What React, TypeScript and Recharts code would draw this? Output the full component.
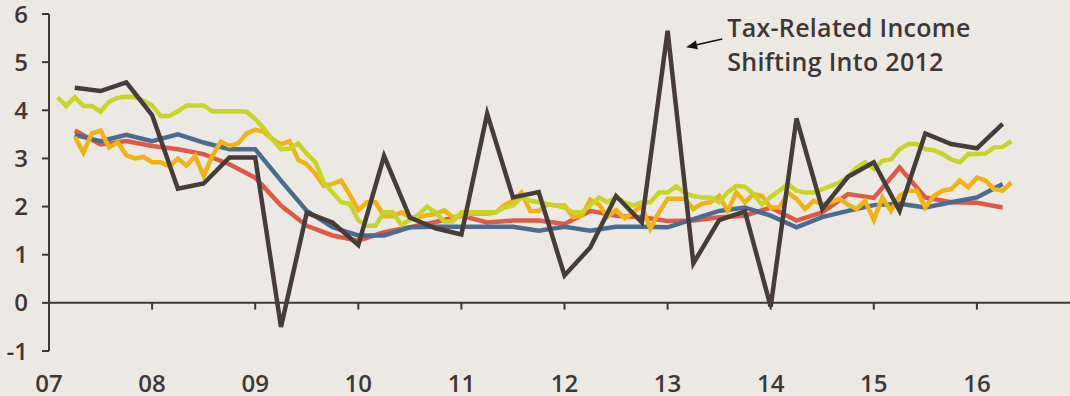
import React from 'react';
import { LineChart, Line, XAxis, YAxis, ReferenceLine } from 'recharts';

// Month index k: 1 = Jan 2007 ... 112 = Apr 2016
const greenMonthly = [
  4.27, 4.09, 4.27, 4.09, 4.09, 3.97, 4.18, 4.26, 4.28, 4.27, 4.2, 4.1,
  3.88, 3.88, 3.98, 4.1, 4.1, 4.1, 3.98, 3.98, 3.98, 3.98, 3.97, 3.82,
  3.62, 3.4, 3.19, 3.2, 3.31, 3.1, 2.92, 2.5, 2.29, 2.09, 2.06, 1.71,
  1.6, 1.6, 1.88, 1.88, 1.62, 1.72, 1.83, 2.0, 1.88, 1.69, 1.69, 1.88,
  1.88, 1.88, 1.88, 1.88, 1.98, 2.02, 2.19, 2.12, 2.09, 2.05, 2.02, 1.98,
  1.88, 1.88, 2.02, 2.19, 2.09, 2.19, 2.09, 2.02, 2.09, 2.09, 2.29, 2.29,
  2.42, 2.28, 2.22, 2.19, 2.19, 2.09, 2.3, 2.43, 2.41, 2.26, 2.04, 2.2,
  2.33, 2.47, 2.33, 2.29, 2.29, 2.36, 2.43, 2.5, 2.62, 2.81, 2.92, 2.78,
  2.95, 2.98, 3.19, 3.3, 3.3, 3.19, 3.17, 3.09, 2.98, 2.92, 3.09, 3.09,
  3.1, 3.23, 3.24, 3.36,
];

// starts at k = 3 (Mar 2007)
const yellowMonthly = [
  3.45, 3.12, 3.52, 3.58, 3.23, 3.33, 3.07, 3.0, 3.03, 2.92,
  2.92, 2.83, 3.0, 2.85, 3.05, 2.64, 3.05, 3.35, 3.26, 3.31, 3.52, 3.6,
  3.55, 3.4, 3.29, 3.36, 2.97, 2.88, 2.68, 2.43, 2.47, 2.54, 2.25, 1.93,
  2.09, 2.09, 1.8, 1.8, 1.88, 1.78, 1.78, 1.82, 1.85, 1.92, 1.78, 1.81,
  1.85, 1.85, 1.85, 1.88, 2.03, 2.12, 2.29, 1.91, 1.91, 2.05, 2.02, 2.02,
  1.78, 1.81, 2.14, 2.05, 1.79, 1.93, 1.76, 1.88, 2.02, 1.54, 1.88, 2.16,
  2.16, 2.16, 1.95, 2.06, 2.09, 2.22, 1.91, 2.29, 2.09, 2.26, 2.22, 1.98,
  1.98, 2.29, 2.16, 1.95, 2.12, 2.05, 2.09, 2.16, 2.04, 1.95, 2.12, 1.72,
  2.19, 1.91, 2.22, 2.33, 2.33, 1.98, 2.22, 2.33, 2.36, 2.54, 2.4, 2.6,
  2.54, 2.36, 2.33, 2.5,
];

// quarterly, k = 3, 6, ..., 111 (Q1 2007 ... Q1 2016)
const darkQuarterly = [
  4.47, 4.4, 4.58, 3.9, 2.37, 2.48, 3.02, 3.02, -0.5, 1.87, 1.67, 1.2,
  3.05, 1.77, 1.55, 1.42, 3.93, 2.19, 2.3, 0.57, 1.15, 2.22, 1.67, 5.65,
  0.82, 1.72, 1.9, -0.08, 3.83, 1.95, 2.62, 2.92, 1.91, 3.52, 3.3, 3.21, 3.72,
];
const redQuarterly = [
  3.58, 3.29, 3.36, 3.26, 3.19, 3.09, 2.88, 2.6, 2.02, 1.6, 1.4, 1.29,
  1.47, 1.57, 1.68, 1.81, 1.67, 1.71, 1.71, 1.64, 1.91, 1.81, 1.78, 1.7,
  1.71, 1.78, 1.81, 1.98, 1.71, 1.88, 2.26, 2.18, 2.81, 2.19, 2.09, 2.08, 1.98,
];
const blueQuarterly = [
  3.49, 3.36, 3.49, 3.36, 3.5, 3.33, 3.19, 3.19, 2.54, 1.91, 1.57, 1.4,
  1.4, 1.57, 1.58, 1.58, 1.58, 1.58, 1.5, 1.58, 1.5, 1.58, 1.58, 1.57,
  1.74, 1.91, 1.98, 1.81, 1.57, 1.78, 1.91, 2.03, 2.06, 1.98, 2.09, 2.19, 2.47,
];

const xTicks = [2007, 2008, 2009, 2010, 2011, 2012, 2013, 2014, 2015, 2016];
const xTickLabels = ['07', '08', '09', '10', '11', '12', '13', '14', '15', '16'];
const yTicks = [-1, 0, 1, 2, 3, 4, 5, 6];

const annotationLines = ['Tax-Related Income', 'Shifting Into 2012'];
const arrowFrom = { x: 2013.53, y: 5.48 };
const arrowTo = { x: 2013.18, y: 5.31 };

const START_YEAR = 2007;
const data = greenMonthly.map((g, i) => {
  const k = i + 1;
  const row: any = { x: START_YEAR + k / 12, green: g };
  if (k >= 3) row.yellow = yellowMonthly[k - 3];
  if (k % 3 === 0) {
    const q = k / 3 - 1;
    row.dark = darkQuarterly[q];
    row.red = redQuarterly[q];
    row.blue = blueQuarterly[q];
  }
  return row;
});

const INK = '#3f3736';
const FONT = '"Open Sans", Lato, sans-serif';
const BG = '#ECE9E4';

const ArrowShape = (p: any) => {
  const { x1, y1, x2, y2 } = p;
  const ang = Math.atan2(y2 - y1, x2 - x1);
  const L = 11;
  const W = 4.5;
  const bx = x2 - L * Math.cos(ang);
  const by = y2 - L * Math.sin(ang);
  const px = -Math.sin(ang) * W;
  const py = Math.cos(ang) * W;
  return (
    <g>
      <line x1={x1} y1={y1} x2={bx} y2={by} stroke="#111" strokeWidth={1.6} />
      <polygon
        points={`${x2},${y2} ${bx + px},${by + py} ${bx - px},${by - py}`}
        fill="#111"
      />
      {annotationLines.map((t, i) => (
        <text
          key={t}
          x={x1 + 5}
          y={y1 - 2 + i * 34}
          fontFamily={FONT}
          fontWeight={600}
          fontSize={25}
          letterSpacing={0.3}
          fill={INK}
        >
          {t}
        </text>
      ))}
    </g>
  );
};

export default function App() {
  return (
    <div
      style={{
        position: 'absolute',
        left: 0,
        top: 0,
        width: 1070,
        height: 396,
        overflow: 'hidden',
        background: BG,
      }}
    >
      <LineChart
        width={1080}
        height={396}
        data={data}
        margin={{ top: 14, right: 0, left: 0, bottom: 0 }}
      >
        <XAxis
          dataKey="x"
          type="number"
          domain={[2007, 2017]}
          ticks={xTicks}
          tickFormatter={(v: number) => xTickLabels[xTicks.indexOf(v)] ?? ''}
          axisLine={false}
          tickLine={false}
          tickSize={0}
          tickMargin={24}
          height={45}
          allowDataOverflow
          tick={{ fontSize: 24, fontFamily: FONT, fontWeight: 600, fill: INK }}
        />
        <YAxis
          type="number"
          domain={[-1, 6]}
          ticks={yTicks}
          width={49}
          allowDataOverflow
          axisLine={{ stroke: INK, strokeWidth: 2 }}
          tickLine={{ stroke: INK, strokeWidth: 2 }}
          tickSize={7}
          tickMargin={14}
          tick={{ fontSize: 24, fontFamily: FONT, fontWeight: 600, fill: INK }}
        />
        <ReferenceLine y={0} stroke={INK} strokeWidth={2} />
        {xTicks.slice(1).map((t) => (
          <ReferenceLine
            key={t}
            segment={[
              { x: t, y: 0 },
              { x: t, y: -0.14 },
            ]}
            stroke={INK}
            strokeWidth={2}
          />
        ))}
        <Line dataKey="red" stroke="#DE5A48" strokeWidth={4.5} dot={false} activeDot={false} connectNulls isAnimationActive={false} />
        <Line dataKey="blue" stroke="#4B6C8E" strokeWidth={4.5} dot={false} activeDot={false} connectNulls isAnimationActive={false} />
        <Line dataKey="yellow" stroke="#EFB414" strokeWidth={4.5} dot={false} activeDot={false} connectNulls isAnimationActive={false} />
        <Line dataKey="green" stroke="#C9D42B" strokeWidth={4.5} dot={false} activeDot={false} connectNulls isAnimationActive={false} />
        <Line dataKey="dark" stroke="#463C3A" strokeWidth={4.5} dot={false} activeDot={false} connectNulls isAnimationActive={false} />
        <ReferenceLine segment={[arrowFrom, arrowTo]} shape={ArrowShape} />
      </LineChart>
    </div>
  );
}
